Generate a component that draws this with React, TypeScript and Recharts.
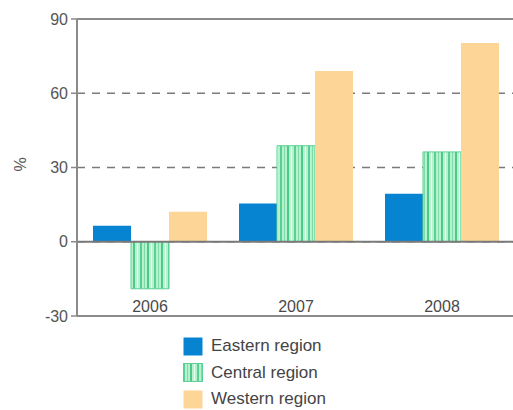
import React from 'react';
import { BarChart, Bar, XAxis, YAxis, CartesianGrid, ReferenceLine } from 'recharts';

const years = ['2006', '2007', '2008'];
const eastern = [6.5, 15.5, 19.4];
const central = [-19, 38.8, 36.3];
const western = [12.1, 69, 80.3];
const yTicks = [-30, 0, 30, 60, 90];

const seriesNames = ['Eastern region', 'Central region', 'Western region'];
const COLORS = ['#0784d1', 'url(#stripes)', '#fdd597'];

const data = years.map((y, i) => ({ year: y, eastern: eastern[i], central: central[i], western: western[i] }));

const FONT = '"Liberation Sans", Arial, sans-serif';

const YearTick = (props: any) => {
  const { x, y, payload } = props;
  return (
    <text x={x} y={y - 12} textAnchor="middle" fontSize={16} fill="#4a4a4a" fontFamily={FONT}>
      {payload.value}
    </text>
  );
};

const StripeDefs = ({ id }: { id: string }) => (
  <defs>
    <pattern id={id} width="14" height="10" patternUnits="userSpaceOnUse">
      <rect x="0" y="0" width="14" height="10" fill="#b6f2cd" />
      <rect x="0" y="0" width="2" height="10" fill="#5acf95" />
      <rect x="4" y="0" width="1" height="10" fill="#7fdcaa" />
      <rect x="7" y="0" width="2" height="10" fill="#4cc88a" />
      <rect x="11" y="0" width="1" height="10" fill="#e8fff0" />
    </pattern>
  </defs>
);

export default function App() {
  return (
    <div style={{ position: 'absolute', left: 0, top: 0, width: 513, height: 410, overflow: 'hidden', background: '#fff', fontFamily: FONT }}>
      <BarChart
        width={515}
        height={410}
        data={data}
        margin={{ top: 19, right: 0, bottom: 0, left: 0 }}
        barCategoryGap={16}
        barGap={0}
      >
        <StripeDefs id="stripes" />
        <CartesianGrid horizontal vertical={false} stroke="#7a7a7a" strokeWidth={1.5} strokeDasharray="8 7" />
        <XAxis
          dataKey="year"
          height={94}
          tickLine={false}
          axisLine={{ stroke: '#8a8a8a', strokeWidth: 2 }}
          tick={<YearTick />}
          interval={0}
        />
        <YAxis
          width={77}
          domain={[-30, 90]}
          ticks={yTicks}
          interval={0}
          tickSize={6}
          tickMargin={3}
          axisLine={{ stroke: '#8a8a8a', strokeWidth: 2 }}
          tickLine={{ stroke: '#8a8a8a', strokeWidth: 1.5 }}
          tick={{ fontSize: 16, fill: '#555', fontFamily: FONT }}
          label={{ value: '%', angle: -90, position: 'insideLeft', offset: 20, dy: 4, fontSize: 16, fill: '#555', fontFamily: FONT }}
        />
        <ReferenceLine y={90} stroke="#8a8a8a" strokeWidth={2} />
        <Bar dataKey="eastern" fill={COLORS[0]} isAnimationActive={false} />
        <Bar dataKey="central" fill={COLORS[1]} stroke="#5ccf95" strokeWidth={1} isAnimationActive={false} />
        <Bar dataKey="western" fill={COLORS[2]} isAnimationActive={false} />
        <ReferenceLine y={0} stroke="#7a7a7a" strokeWidth={2} />
      </BarChart>
      <div style={{ position: 'absolute', left: 183, top: 333 }}>
        {seriesNames.map((name, i) => (
          <div key={name} style={{ display: 'flex', alignItems: 'center', height: 26.5 }}>
            <svg width={20} height={19} style={{ marginRight: 8 }}>
              {i === 1 && <StripeDefs id="stripesLegend" />}
              <rect
                x={0.5}
                y={0.5}
                width={19}
                height={18}
                fill={i === 1 ? 'url(#stripesLegend)' : COLORS[i]}
                stroke={i === 1 ? '#5ccf95' : 'none'}
              />
            </svg>
            <span style={{ fontSize: 17, color: '#444', fontFamily: FONT }}>{name}</span>
          </div>
        ))}
      </div>
    </div>
  );
}
